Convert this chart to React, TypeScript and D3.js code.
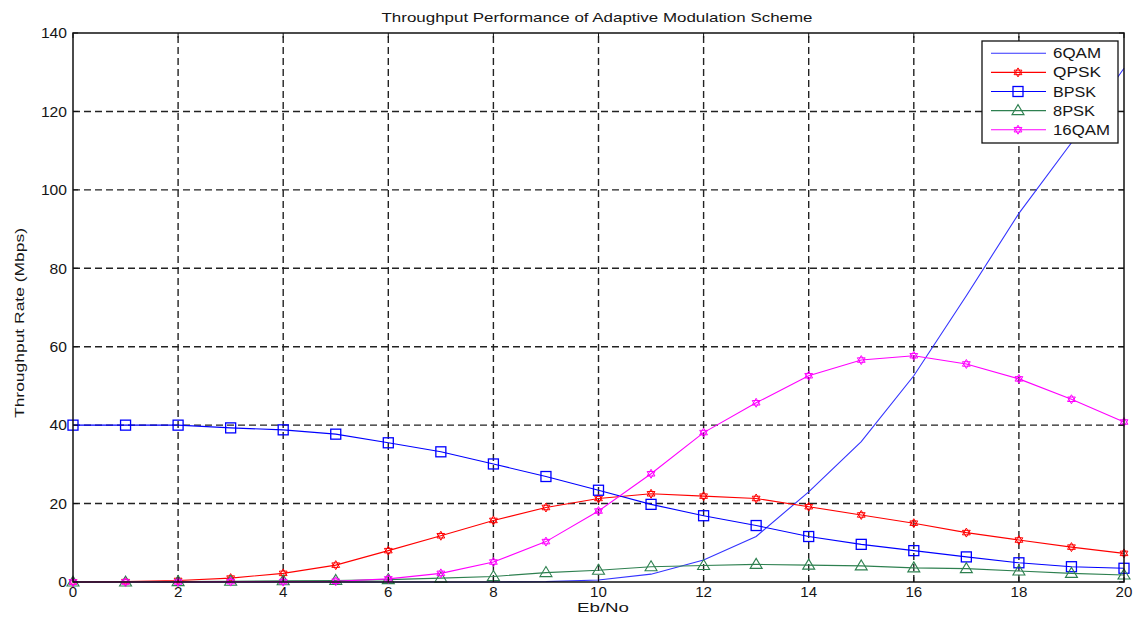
import React from "react";
import * as d3 from "d3";

const ebno = d3.range(0, 21);
const qam6 = [0, 0, 0, 0, 0, 0, 0, 0, 0, 0.1, 0.5, 2.0, 5.6, 11.6, 23.0, 35.8, 52.6, 73, 94, 112, 131];
const qpsk = [0, 0.1, 0.4, 1.0, 2.2, 4.3, 8.0, 11.8, 15.7, 19.0, 21.3, 22.5, 21.9, 21.3, 19.2, 17.1, 15.0, 12.6, 10.7, 8.9, 7.3];
const bpsk = [40, 40, 40, 39.3, 38.8, 37.7, 35.5, 33.2, 30.1, 26.9, 23.4, 19.8, 16.9, 14.4, 11.6, 9.6, 8.0, 6.4, 4.9, 3.9, 3.5];
const psk8 = [0, 0, 0.1, 0.2, 0.3, 0.4, 0.6, 1.0, 1.4, 2.4, 3.0, 3.9, 4.2, 4.5, 4.3, 4.1, 3.6, 3.4, 2.8, 2.2, 1.8];
const qam16 = [0, 0, 0, 0.1, 0.1, 0.2, 0.8, 2.2, 5.1, 10.3, 18.1, 27.6, 38.1, 45.7, 52.6, 56.6, 57.7, 55.6, 51.8, 46.6, 40.8];

const xTicks = [0, 2, 4, 6, 8, 10, 12, 14, 16, 18, 20];
const yTicks = [0, 20, 40, 60, 80, 100, 120, 140];

type Marker = "none" | "hex" | "square" | "triangle";
const series: { name: string; values: number[]; color: string; marker: Marker; w: number }[] = [
  { name: "6QAM", values: qam6, color: "#3333ff", marker: "none", w: 48 },
  { name: "QPSK", values: qpsk, color: "#ff0000", marker: "hex", w: 48 },
  { name: "BPSK", values: bpsk, color: "#0000ff", marker: "square", w: 43 },
  { name: "8PSK", values: psk8, color: "#2e8050", marker: "triangle", w: 42 },
  { name: "16QAM", values: qam16, color: "#ff00ff", marker: "hex", w: 57 },
];

const W = 1136;
const H = 619;
const L = 73;
const R = 1124;
const T = 33;
const B = 582;
const font = "'Liberation Sans', Arial, sans-serif";
const ink = "#161616";

function hexPath(cx: number, cy: number, r: number) {
  const tri = (off: number) =>
    d3.range(3).map((i) => {
      const a = off + (i * 2 * Math.PI) / 3;
      return [cx + r * Math.sin(a), cy - r * Math.cos(a)];
    });
  const p = (pts: number[][]) => "M" + pts.map((q) => q.join(",")).join("L") + "Z";
  return p(tri(0)) + p(tri(Math.PI));
}

function MarkerShape({ m, x, y, color }: { m: Marker; x: number; y: number; color: string }) {
  if (m === "hex") return <path d={hexPath(x, y, 4.5)} fill="none" stroke={color} strokeWidth={1} />;
  if (m === "square") return <rect x={x - 5} y={y - 5} width={10} height={10} fill="none" stroke={color} strokeWidth={1.3} />;
  if (m === "triangle")
    return <path d={`M${x},${y - 6}L${x + 6},${y + 4}L${x - 6},${y + 4}Z`} fill="none" stroke={color} strokeWidth={1.1} />;
  return null;
}

export default function App() {
  const x = d3.scaleLinear().domain([0, 20]).range([L, R]);
  const y = d3.scaleLinear().domain([0, 140]).range([B, T]);
  const line = d3
    .line<number>()
    .x((_, i) => x(ebno[i]))
    .y((v) => y(v));
  const grid = { stroke: "#222", strokeWidth: 1.4, strokeDasharray: "7,4" };
  const lx = 982;
  const ly = 41;
  const sq = { lengthAdjust: "spacingAndGlyphs" as const };
  return (
    <svg width={W} height={H} style={{ position: "absolute", left: 0, top: 0, background: "#fff" }}>
      <rect width={W} height={H} fill="#fff" />
      <text x={597} y={21.5} textAnchor="middle" fontFamily={font} fontSize={13.5} fill={ink} textLength={431} {...sq}>
        Throughput Performance of Adaptive Modulation Scheme
      </text>
      {xTicks.slice(1, -1).map((t) => (
        <line key={"gx" + t} x1={x(t)} x2={x(t)} y1={B} y2={T} {...grid} />
      ))}
      {yTicks.slice(1, -1).map((t) => (
        <line key={"gy" + t} x1={L} x2={R} y1={y(t)} y2={y(t)} {...grid} />
      ))}
      {series.map((s) => (
        <g key={s.name}>
          <path d={line(s.values) || ""} fill="none" stroke={s.color} strokeWidth={1.1} />
          {s.marker !== "none" &&
            s.values.map((v, i) => <MarkerShape key={i} m={s.marker} x={x(ebno[i])} y={y(v)} color={s.color} />)}
        </g>
      ))}
      <rect x={L} y={T} width={R - L} height={B - T} fill="none" stroke="#111" strokeWidth={1.5} />
      {xTicks.map((t) => (
        <g key={"xt" + t}>
          <line x1={x(t)} x2={x(t)} y1={B} y2={B - 5} stroke="#111" />
          <line x1={x(t)} x2={x(t)} y1={T} y2={T + 5} stroke="#111" />
          <text
            x={x(t)}
            y={596.5}
            textAnchor="middle"
            fontFamily={font}
            fontSize={14}
            fill={ink}
            textLength={String(t).length * 8.4}
            {...sq}
          >
            {t}
          </text>
        </g>
      ))}
      {yTicks.map((t) => (
        <g key={"yt" + t}>
          <line x1={L} x2={L + 5} y1={y(t)} y2={y(t)} stroke="#111" />
          <line x1={R} x2={R - 5} y1={y(t)} y2={y(t)} stroke="#111" />
          <text
            x={67}
            y={y(t) + 5.3}
            textAnchor="end"
            fontFamily={font}
            fontSize={14}
            fill={ink}
            textLength={String(t).length * 8.7}
            {...sq}
          >
            {t}
          </text>
        </g>
      ))}
      <text x={603} y={612} textAnchor="middle" fontFamily={font} fontSize={13.5} fill={ink} textLength={52} {...sq}>
        Eb/No
      </text>
      <text
        transform={`translate(24,323) rotate(-90)`}
        textAnchor="middle"
        fontFamily={font}
        fontSize={12.5}
        fill={ink}
        textLength={190}
        {...sq}
      >
        Throughput Rate (Mbps)
      </text>
      <g>
        <rect x={lx} y={ly} width={136} height={102} fill="#fff" stroke="#111" strokeWidth={1.3} />
        {series.map((s, i) => {
          const yy = ly + 12.3 + i * 19.1;
          return (
            <g key={"lg" + s.name}>
              <line x1={lx + 9} x2={lx + 64} y1={yy} y2={yy} stroke={s.color} strokeWidth={1.1} />
              <MarkerShape m={s.marker} x={lx + 36} y={yy} color={s.color} />
              <text x={lx + 71} y={yy + 5} fontFamily={font} fontSize={14} fill={ink} textLength={s.w} {...sq}>
                {s.name}
              </text>
            </g>
          );
        })}
      </g>
    </svg>
  );
}
